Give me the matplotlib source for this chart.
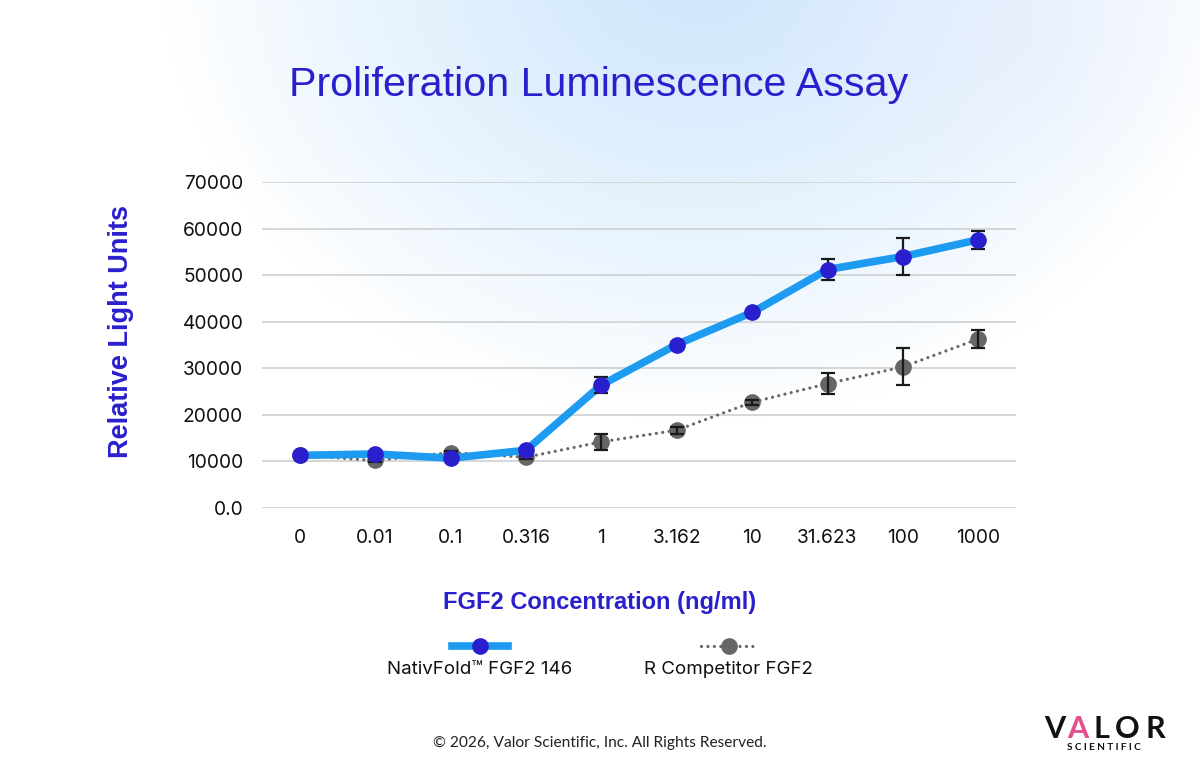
import numpy as np
import matplotlib
matplotlib.use("Agg")
import matplotlib.pyplot as plt
from matplotlib.lines import Line2D

# ---------------- data ----------------
concentrations = ["0", "0.01", "0.1", "0.316", "1", "3.162", "10", "31.623", "100", "1000"]
nativfold = [11300, 11600, 10700, 12400, 26400, 35100, 42000, 51200, 54000, 57600]
nativfold_err = [300, 300, 300, 400, 1800, 600, 400, 2200, 4000, 1900]
competitor = [11300, 10200, 11900, 10900, 14200, 16700, 22700, 26700, 30300, 36300]
competitor_err = [300, 300, 300, 300, 1700, 800, 500, 2300, 3950, 1900]
series_names = ["NativFold\u2122 FGF2 146", "R Competitor FGF2"]
y_ticks = [0, 10000, 20000, 30000, 40000, 50000, 60000, 70000]
y_tick_labels = ["0.0", "10000", "20000", "30000", "40000", "50000", "60000", "70000"]

BLUE_LINE = "#1D9BF0"
BLUE_MARK = "#2A1FCC"
GRAY = "#666666"
LABEL_BLUE = "#2A1FCC"
DOTS = (0, (0.01, 2.0))

W, H = 1200, 776
fig = plt.figure(figsize=(W / 100, H / 100), dpi=100)

# background gradient
bg = fig.add_axes([0, 0, 1, 1], zorder=-10)
yy, xx = np.mgrid[0:H, 0:W]
d = np.sqrt(((xx - 700) / 540.0) ** 2 + ((yy + 40) / 460.0) ** 2)
t = np.clip(1 - d, 0, 1) ** 0.9
c_center = np.array([0.80, 0.90, 0.99])
img = np.ones((H, W, 3)) * (1 - t[..., None]) + c_center * t[..., None]
d2 = np.sqrt(((xx - 1000) / 260.0) ** 2 + ((yy - 30) / 180.0) ** 2)
t2 = np.clip(1 - d2, 0, 1) * 0.35
lav = np.array([0.91, 0.91, 0.99])
img = img * (1 - t2[..., None]) + lav * t2[..., None]
bg.imshow(img, extent=[0, W, H, 0], aspect="auto")
bg.set_axis_off()

ax = fig.add_axes([262 / W, (H - 508) / H, (1016 - 262) / W, (508 - 182) / H])
ax.patch.set_alpha(0)
x = np.arange(len(concentrations))

ax.errorbar(x, competitor, yerr=competitor_err, fmt="none", ecolor="#1a1a1a",
            elinewidth=1.6, capsize=5, capthick=1.6, zorder=6)
ax.plot(x, competitor, linestyle=DOTS, color=GRAY, linewidth=2.3,
        dash_capstyle="round", zorder=3)
ax.plot(x, competitor, linestyle="none", marker="o", markersize=11,
        color=GRAY, zorder=4)

ax.plot(x, nativfold, color=BLUE_LINE, linewidth=5.5, solid_capstyle="round",
        solid_joinstyle="round", zorder=5)
ax.errorbar(x, nativfold, yerr=nativfold_err, fmt="none", ecolor="#1a1a1a",
            elinewidth=1.6, capsize=5, capthick=1.6, zorder=6)
ax.plot(x, nativfold, linestyle="none", marker="o", markersize=11,
        color=BLUE_MARK, zorder=7)

ax.set_xlim(-0.5, len(concentrations) - 0.5)
ax.set_ylim(0, 70000)
ax.set_xticks(x)
ax.set_xticklabels(concentrations)
ax.set_yticks(y_ticks)
ax.set_yticklabels(y_tick_labels)
for s in ax.spines.values():
    s.set_visible(False)
ax.tick_params(axis="both", length=0, labelsize=13.8, labelcolor="#111111")
ax.tick_params(axis="y", pad=13.5)
ax.tick_params(axis="x", pad=15)
for lab in ax.get_xticklabels() + ax.get_yticklabels():
    lab.set_family("Inter")
ax.grid(axis="y", color="#cccccc", linewidth=1.1)
ax.set_axisbelow(True)

# title and axis labels
fig.text(599 / W, 1 - 85 / H, "Proliferation Luminescence Assay", ha="center", va="center",
         fontsize=29.7, color=LABEL_BLUE, family="Liberation Sans")
fig.text(121 / W, 1 - 332 / H, "Relative Light Units", ha="center", va="center",
         rotation=90, fontsize=19.5, fontweight="bold", color=LABEL_BLUE, family="Liberation Sans")
fig.text(600 / W, 1 - 603 / H, "FGF2 Concentration (ng/ml)", ha="center", va="center",
         fontsize=17, fontweight="bold", color=LABEL_BLUE, family="Liberation Sans")

# custom legend (handle above text)
leg_y = 1 - 646 / H
for cx, name, style in [(480, series_names[0], "blue"), (729, series_names[1], "gray")]:
    if style == "blue":
        fig.add_artist(Line2D([(cx - 28) / W, (cx + 28) / W], [leg_y, leg_y], color=BLUE_LINE,
                              linewidth=5.5, transform=fig.transFigure))
        fig.add_artist(Line2D([cx / W], [leg_y], marker="o", markersize=11, color=BLUE_MARK,
                              linestyle="none", transform=fig.transFigure))
    else:
        fig.add_artist(Line2D([(cx - 28) / W, (cx + 28) / W], [leg_y, leg_y], color=GRAY,
                              linewidth=2.3, linestyle=DOTS, dash_capstyle="round",
                              transform=fig.transFigure))
        fig.add_artist(Line2D([cx / W], [leg_y], marker="o", markersize=11, color=GRAY,
                              linestyle="none", transform=fig.transFigure))
    fig.text(cx / W, 1 - 670 / H, name, ha="center", va="center", fontsize=13.5,
             color="#111111", family="Inter")

fig.text(600 / W, 1 - 743 / H, "\u00a9 2026, Valor Scientific, Inc. All Rights Reserved.",
         ha="center", va="center", fontsize=11.2, color="#222222", family="Lato")

# logo
logo_letters = ["V", "A", "L", "O", "R"]
logo_x = [1055, 1078, 1101, 1127, 1155]
logo_colors = ["#111111", "#e2508f", "#111111", "#111111", "#111111"]
for ch, lx, lc in zip(logo_letters, logo_x, logo_colors):
    fig.text(lx / W, 1 - 729 / H, ch, ha="center", va="center", fontsize=22,
             fontweight="bold", color=lc, family="Lato")
fig.text(1104 / W, 1 - 747 / H, "S C I E N T I F I C", ha="center", va="center", fontsize=7.2,
         fontweight="bold", color="#111111", family="Lato")

fig.savefig("out.png", dpi=100)
